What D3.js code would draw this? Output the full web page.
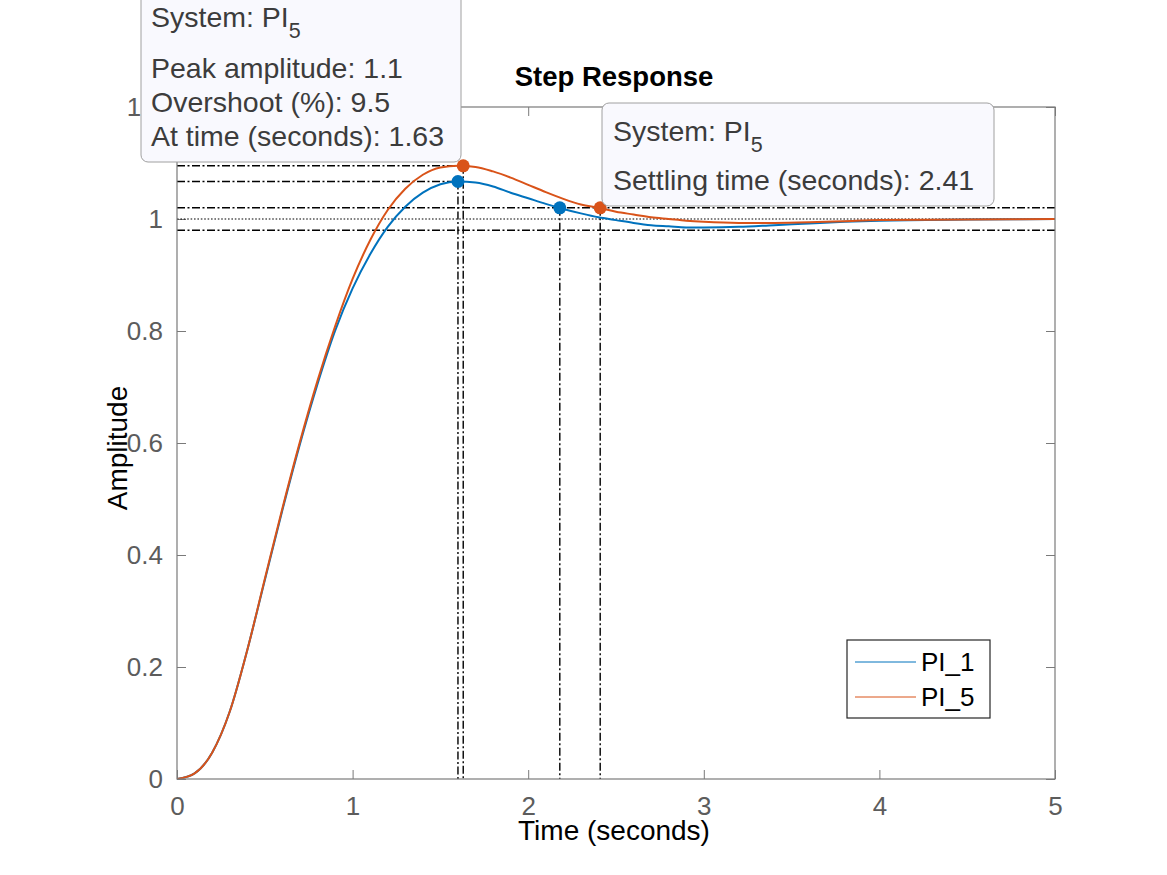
<!DOCTYPE html>
<html>
<head>
<meta charset="utf-8">
<script src="https://cdn.jsdelivr.net/npm/d3@7"></script>
<style>
  html, body { margin: 0; padding: 0; background: #fff; }
  svg { display: block; font-family: "Liberation Sans", Arial, Helvetica, sans-serif; }
</style>
</head>
<body>
<svg id="chart" width="1167" height="875"></svg>
<script>
// ---- Data ----
const times = [0, 0.1, 0.2, 0.3, 0.4, 0.5, 0.6, 0.7, 0.8, 0.9, 1.0, 1.1, 1.2, 1.3, 1.4, 1.5, 1.6, 1.7, 1.8, 1.9, 2.0, 2.1, 2.2, 2.3, 2.4, 2.5, 2.6, 2.7, 2.8, 2.9, 3.0, 3.2, 3.4, 3.6, 3.8, 4.0, 4.5, 5.0];
const pi1 = [0, 0.01, 0.047, 0.12, 0.23, 0.355, 0.48, 0.598, 0.705, 0.80, 0.876, 0.937, 0.986, 1.022, 1.047, 1.062, 1.067, 1.065, 1.058, 1.047, 1.037, 1.027, 1.018, 1.010, 1.003, 0.998, 0.993, 0.989, 0.987, 0.985, 0.985, 0.986, 0.989, 0.992, 0.995, 0.997, 0.999, 1.0];
const pi5 = [0, 0.01, 0.047, 0.12, 0.23, 0.357, 0.483, 0.602, 0.711, 0.808, 0.893, 0.962, 1.016, 1.054, 1.079, 1.092, 1.095, 1.093, 1.085, 1.074, 1.061, 1.048, 1.036, 1.026, 1.020, 1.013, 1.008, 1.003, 1.000, 0.997, 0.995, 0.993, 0.993, 0.994, 0.996, 0.998, 0.999, 1.0];
const seriesNames = ["PI_1", "PI_5"];
const seriesColors = ["#0072BD", "#D95319"];
const peakTimes = [1.60, 1.63];
const peakAmps = [1.067, 1.095];
const settleTimes = [2.18, 2.41];
const settleBand = [0.98, 1.02];
const finalValue = 1.0;
const xTicks = [0, 1, 2, 3, 4, 5];
const yTicks = [0, 0.2, 0.4, 0.6, 0.8, 1.0, 1.2];
const yTickLabels = ["0", "0.2", "0.4", "0.6", "0.8", "1", "1.2"];
const tip1Lines = ["Peak amplitude: 1.1", "Overshoot (%): 9.5", "At time (seconds): 1.63"];
const tip2Lines = ["Settling time (seconds): 2.41"];

// ---- Layout ----
const svg = d3.select("#chart");
const L = 177, R = 1055, T = 107, B = 779;
const x = d3.scaleLinear().domain([0, 5]).range([L, R]);
const y = d3.scaleLinear().domain([0, 1.2]).range([B, T]);

const axisCol = "#7a7a7a";
const tickTextCol = "#5c5c5c";

// ticks
const fmtY = d => yTickLabels[yTicks.indexOf(d)];
const gx = svg.append("g").attr("transform", `translate(0,${B})`)
  .call(d3.axisBottom(x).tickValues(xTicks).tickSizeInner(-9).tickSizeOuter(0).tickPadding(18).tickFormat(d3.format("d")));
const gxt = svg.append("g").attr("transform", `translate(0,${T})`)
  .call(d3.axisTop(x).tickValues(xTicks).tickSizeInner(-9).tickSizeOuter(0).tickFormat(""));
const gy = svg.append("g").attr("transform", `translate(${L},0)`)
  .call(d3.axisLeft(y).tickValues(yTicks).tickSizeInner(-9).tickSizeOuter(0).tickPadding(14).tickFormat(fmtY));
const gyr = svg.append("g").attr("transform", `translate(${R},0)`)
  .call(d3.axisRight(y).tickValues(yTicks).tickSizeInner(-9).tickSizeOuter(0).tickFormat(""));
[gx, gxt, gy, gyr].forEach(g => {
  g.select(".domain").remove();
  g.selectAll(".tick line").attr("stroke", axisCol).attr("stroke-width", 1);
  g.selectAll(".tick text").attr("fill", tickTextCol).attr("font-size", 26)
    .attr("font-family", "Liberation Sans, Arial, sans-serif");
});
gx.selectAll(".tick text").attr("dy", "0.71em");

// clip
svg.append("clipPath").attr("id", "clip").append("rect")
  .attr("x", L).attr("y", T).attr("width", R - L).attr("height", B - T);

const plot = svg.append("g").attr("clip-path", "url(#clip)");

const dashDot = "8,2.5,2,2.5";
const refCol = "#000";
const refW = 1.4;

// final value dotted line
plot.append("line").attr("x1", L).attr("x2", R).attr("y1", y(finalValue)).attr("y2", y(finalValue))
  .attr("stroke", refCol).attr("stroke-width", 1.2).attr("stroke-dasharray", "1.6,1.8");
// settling band lines
settleBand.forEach(v => {
  plot.append("line").attr("x1", L).attr("x2", R).attr("y1", y(v)).attr("y2", y(v))
    .attr("stroke", refCol).attr("stroke-width", refW).attr("stroke-dasharray", dashDot);
});
// peak ref lines
peakTimes.forEach((t, i) => {
  plot.append("line").attr("x1", L).attr("x2", x(t)).attr("y1", y(peakAmps[i])).attr("y2", y(peakAmps[i]))
    .attr("stroke", refCol).attr("stroke-width", refW).attr("stroke-dasharray", dashDot);
  plot.append("line").attr("x1", x(t)).attr("x2", x(t)).attr("y1", y(peakAmps[i])).attr("y2", B)
    .attr("stroke", refCol).attr("stroke-width", refW).attr("stroke-dasharray", dashDot);
});
// settling vertical lines
settleTimes.forEach(t => {
  plot.append("line").attr("x1", x(t)).attr("x2", x(t)).attr("y1", y(settleBand[1])).attr("y2", B)
    .attr("stroke", refCol).attr("stroke-width", refW).attr("stroke-dasharray", dashDot);
});

// curves
const line = d3.line().curve(d3.curveMonotoneX);
[pi1, pi5].forEach((vals, i) => {
  plot.append("path")
    .attr("d", line(times.map((t, k) => [x(t), y(vals[k])])))
    .attr("fill", "none").attr("stroke", seriesColors[i]).attr("stroke-width", 2);
});

// markers
[0, 1].forEach(i => {
  svg.append("circle").attr("cx", x(peakTimes[i])).attr("cy", y(peakAmps[i])).attr("r", 6.5).attr("fill", seriesColors[i]);
  svg.append("circle").attr("cx", x(settleTimes[i])).attr("cy", y(settleBand[1])).attr("r", 6.5).attr("fill", seriesColors[i]);
});

// box
svg.append("rect").attr("x", L).attr("y", T).attr("width", R - L).attr("height", B - T)
  .attr("fill", "none").attr("stroke", axisCol).attr("stroke-width", 1.2);

// title and labels
svg.append("text").attr("x", (L + R) / 2 - 2).attr("y", 86).attr("text-anchor", "middle")
  .attr("font-size", 27.5).attr("font-weight", "bold").attr("fill", "#000").text("Step Response");
svg.append("text").attr("x", (L + R) / 2 - 2).attr("y", 840).attr("text-anchor", "middle")
  .attr("font-size", 28).attr("fill", "#000").text("Time (seconds)");
svg.append("text").attr("transform", `translate(127,${(T + B) / 2 + 5}) rotate(-90)`).attr("text-anchor", "middle")
  .attr("font-size", 28).attr("fill", "#000").text("Amplitude");

// legend
const lg = svg.append("g");
lg.append("rect").attr("x", 847).attr("y", 640).attr("width", 143).attr("height", 78)
  .attr("fill", "#fff").attr("stroke", "#262626").attr("stroke-width", 1.2);
seriesNames.forEach((n, i) => {
  const yy = 662 + i * 35;
  lg.append("line").attr("x1", 855).attr("x2", 916).attr("y1", yy).attr("y2", yy)
    .attr("stroke", seriesColors[i]).attr("stroke-width", 1);
  lg.append("text").attr("x", 921).attr("y", yy + 9).attr("font-size", 26).attr("fill", "#000").text(n);
});

// datatips
const tipText = "#3c3c3c";
function datatip(bx, by, bw, bh, tx, sysY, lines, lineY0, lineStep) {
  const g = svg.append("g");
  g.append("rect").attr("x", bx).attr("y", by).attr("width", bw).attr("height", bh).attr("rx", 7)
    .attr("fill", "#f9f9fe").attr("stroke", "#a0a0a0").attr("stroke-width", 1);
  const st = g.append("text").attr("x", tx).attr("y", sysY).attr("font-size", 28.5).attr("fill", tipText);
  st.append("tspan").text("System: PI");
  st.append("tspan").attr("font-size", 21.5).attr("dy", 11).text("5");
  lines.forEach((s, k) => {
    g.append("text").attr("x", tx).attr("y", lineY0 + k * lineStep).attr("font-size", 28.5)
      .attr("fill", tipText).text(s);
  });
}
datatip(141, -20, 320, 182, 151, 27, tip1Lines, 78, 34);
datatip(602, 103, 392, 103, 613, 141, tip2Lines, 190, 34);
</script>
</body>
</html>
